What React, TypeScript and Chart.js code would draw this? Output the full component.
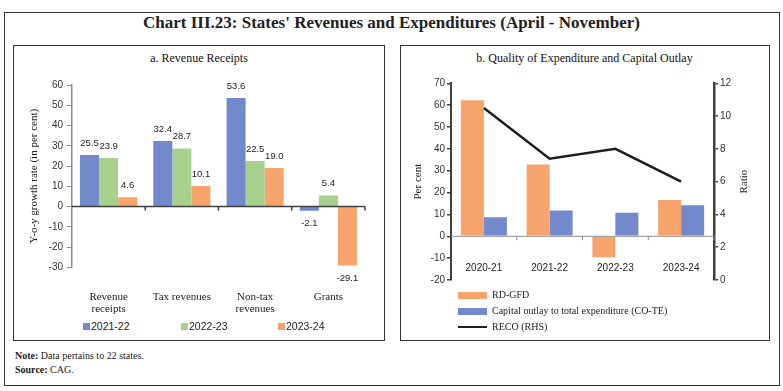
import React, { useEffect, useRef } from 'react';
import { Chart, registerables } from 'chart.js';

Chart.register(...registerables);

// ---------- Data ----------
const revenueCategories: (string | string[])[] = [['Revenue', 'receipts'], 'Tax revenues', ['Non-tax', 'revenues'], 'Grants'];
const revenueSeriesNames = ['2021-22', '2022-23', '2023-24'];
const revenue2021_22 = [25.5, 32.4, 53.6, -2.1];
const revenue2022_23 = [23.9, 28.7, 22.5, 5.4];
const revenue2023_24 = [4.6, 10.1, 19.0, -29.1];
const revenueTicks = { min: -30, max: 60, step: 10 };

const expenditureCategories = ['2020-21', '2021-22', '2022-23', '2023-24'];
const expenditureSeriesNames = ['RD-GFD', 'Capital outlay to total expenditure (CO-TE)', 'RECO (RHS)'];
const rdGfd = [62.3, 32.8, -9.6, 16.6];
const coTe = [8.7, 11.8, 10.8, 14.2];
const reco = [10.5, 7.4, 8.0, 6.0];
const expenditureTicks = { min: -20, max: 70, step: 10 };
const ratioTicks = { min: 0, max: 12, step: 2 };

// ---------- Styles ----------
const BLUE = '#7289cb';
const GREEN = '#a9d18e';
const ORANGE = '#f6a46b';
const SERIF = '"Liberation Serif", "DejaVu Serif", serif';
const SANS = '"Liberation Sans", Arial, sans-serif';

const zeroLine = (color: string, width: number) => ({
  id: 'zeroLine',
  afterDatasetsDraw(chart: any) {
    const { ctx, chartArea, scales } = chart;
    const y0 = scales.y.getPixelForValue(0);
    const n = chart.data.labels.length;
    ctx.save();
    ctx.strokeStyle = color;
    ctx.lineWidth = width;
    ctx.beginPath();
    ctx.moveTo(chartArea.left, y0);
    ctx.lineTo(chartArea.right, y0);
    for (let i = 1; i <= n; i++) {
      const x = chartArea.left + ((chartArea.right - chartArea.left) * i) / n;
      ctx.moveTo(x, y0);
      ctx.lineTo(x, y0 + 4);
    }
    ctx.stroke();
    ctx.restore();
  },
});

const valueLabels = {
  id: 'valueLabels',
  afterDatasetsDraw(chart: any) {
    const { ctx } = chart;
    ctx.save();
    ctx.font = `9.5px ${SANS}`;
    ctx.fillStyle = '#222';
    ctx.textAlign = 'center';
    ctx.textBaseline = 'middle';
    chart.data.datasets.forEach((ds: any, i: number) => {
      const meta = chart.getDatasetMeta(i);
      meta.data.forEach((el: any, j: number) => {
        const v = ds.data[j];
        const y = v >= 0 ? el.y - 12 : el.y + 13;
        ctx.fillText(v.toFixed(1), el.x, y);
      });
    });
    ctx.restore();
  },
};

// category labels drawn inside the plot, below the zero line (as in the original)
const innerCategoryLabels = {
  id: 'innerCategoryLabels',
  afterDraw(chart: any) {
    const { ctx, chartArea, scales } = chart;
    ctx.save();
    ctx.font = `10px ${SANS}`;
    ctx.fillStyle = '#222';
    ctx.textAlign = 'center';
    ctx.textBaseline = 'middle';
    chart.data.labels.forEach((lab: string, i: number) => {
      ctx.fillText(lab, scales.x.getPixelForValue(i), chartArea.bottom - 12);
    });
    ctx.restore();
  },
};

const rightTitle = {
  id: 'rightTitle',
  afterDraw(chart: any) {
    const { ctx } = chart;
    const s = chart.scales.y2;
    ctx.save();
    ctx.font = `11px ${SERIF}`;
    ctx.fillStyle = '#222';
    ctx.textAlign = 'center';
    ctx.textBaseline = 'middle';
    ctx.translate(s.right - 25, (s.top + s.bottom) / 2);
    ctx.rotate(-Math.PI / 2);
    ctx.fillText('Ratio', 0, 0);
    ctx.restore();
  },
};

function RevenueChart() {
  const ref = useRef<HTMLCanvasElement>(null);
  useEffect(() => {
    const chart = new Chart(ref.current!, {
      type: 'bar',
      data: {
        labels: revenueCategories as any,
        datasets: [
          { label: revenueSeriesNames[0], data: revenue2021_22, backgroundColor: BLUE },
          { label: revenueSeriesNames[1], data: revenue2022_23, backgroundColor: GREEN },
          { label: revenueSeriesNames[2], data: revenue2023_24, backgroundColor: ORANGE },
        ],
      },
      options: {
        animation: false,
        responsive: false,
        events: [],
        layout: { padding: { top: 15, right: 19, left: 0, bottom: 0 } },
        datasets: { bar: { categoryPercentage: 0.78, barPercentage: 1 } },
        plugins: { legend: { display: false }, tooltip: { enabled: false } },
        scales: {
          x: {
            grid: { display: false },
            border: { display: false },
            ticks: { padding: 16, color: '#222', font: { family: SERIF, size: 11, lineHeight: 1.1 }, maxRotation: 0, autoSkip: false },
            afterFit: (s: any) => { s.height = 62.7; },
          },
          y: {
            min: revenueTicks.min,
            max: revenueTicks.max,
            ticks: { stepSize: revenueTicks.step, padding: 4, color: '#333', font: { family: SANS, size: 10 } },
            grid: { drawOnChartArea: false, tickLength: 5, color: '#8c8c8c', lineWidth: 1 },
            border: { display: true, color: '#8c8c8c', width: 1.5 },
            title: { display: true, text: 'Y-o-y growth rate (in per cent)', color: '#222', font: { family: SERIF, size: 11 }, padding: { top: 14, bottom: 0 } },
            afterFit: (s: any) => { s.width = 58; },
          },
        },
      },
      plugins: [zeroLine('#404040', 1.5), valueLabels],
    } as any);
    return () => chart.destroy();
  }, []);
  return <canvas ref={ref} width={370} height={260} style={{ position: 'absolute', left: 14, top: 70, width: 370, height: 260 }} />;
}

function ExpenditureChart() {
  const ref = useRef<HTMLCanvasElement>(null);
  useEffect(() => {
    const chart = new Chart(ref.current!, {
      type: 'bar',
      data: {
        labels: expenditureCategories,
        datasets: [
          { type: 'line', label: expenditureSeriesNames[2], data: reco, yAxisID: 'y2', borderColor: '#1e1e1e', borderWidth: 2.5, pointRadius: 0, fill: false, order: 0 },
          { label: expenditureSeriesNames[0], data: rdGfd, backgroundColor: ORANGE, yAxisID: 'y', order: 1 },
          { label: expenditureSeriesNames[1], data: coTe, backgroundColor: BLUE, yAxisID: 'y', order: 1 },
        ],
      },
      options: {
        animation: false,
        responsive: false,
        events: [],
        layout: { padding: { top: 13.3, right: 0, left: 0, bottom: 0 } },
        datasets: { bar: { categoryPercentage: 0.7, barPercentage: 1 } },
        plugins: { legend: { display: false }, tooltip: { enabled: false } },
        scales: {
          x: {
            grid: { display: false },
            border: { display: false },
            ticks: { display: false },
            afterFit: (s: any) => { s.height = 10; },
          },
          y: {
            position: 'left',
            min: expenditureTicks.min,
            max: expenditureTicks.max,
            ticks: { stepSize: expenditureTicks.step, padding: 2, color: '#333', font: { family: SANS, size: 10 } },
            grid: { drawOnChartArea: false, tickLength: 4, color: '#404040', lineWidth: 1.5 },
            border: { display: true, color: '#404040', width: 2 },
            title: { display: true, text: 'Per cent', color: '#222', font: { family: SERIF, size: 11 }, padding: { top: 12, bottom: 0 } },
            afterFit: (s: any) => { s.width = 51; },
          },
          y2: {
            position: 'right',
            min: ratioTicks.min,
            max: ratioTicks.max,
            ticks: { stepSize: ratioTicks.step, padding: 2, color: '#333', font: { family: SANS, size: 10 } },
            grid: { drawOnChartArea: false, tickLength: 4, color: '#404040', lineWidth: 1.5 },
            border: { display: true, color: '#404040', width: 2.5 },
            afterFit: (s: any) => { s.width = 55; },
          },
        },
      },
      plugins: [zeroLine('#8c8c8c', 1), innerCategoryLabels, rightTitle],
    } as any);
    return () => chart.destroy();
  }, []);
  return <canvas ref={ref} width={369} height={220} style={{ position: 'absolute', left: 400, top: 70, width: 369, height: 220 }} />;
}

const box = (color: string, w: number, h: number): React.CSSProperties => ({
  display: 'inline-block', width: w, height: h, background: color, marginRight: 1,
});

export default function App() {
  const legendLeft = [
    { name: revenueSeriesNames[0], color: BLUE, x: 83 },
    { name: revenueSeriesNames[1], color: GREEN, x: 181 },
    { name: revenueSeriesNames[2], color: ORANGE, x: 278 },
  ];
  return (
    <div style={{ position: 'absolute', left: 0, top: 0, width: 783, height: 391, background: '#fff', overflow: 'hidden' }}>
      <div style={{ position: 'absolute', left: 4, top: 12, width: 774, height: 372, border: '1px solid #333' }} />
      <div style={{ position: 'absolute', left: 0, width: 783, top: 13, textAlign: 'center', font: `bold 17px ${SERIF}`, color: '#222' }}>
        Chart III.23: States' Revenues and Expenditures (April - November)
      </div>
      <div style={{ position: 'absolute', left: 13, top: 45, width: 370, height: 294, border: '1px solid #333' }} />
      <div style={{ position: 'absolute', left: 400, top: 45, width: 368, height: 294, border: '1px solid #333' }} />
      <div style={{ position: 'absolute', left: 14, width: 370, top: 51, textAlign: 'center', font: `12px ${SERIF}`, color: '#111' }}>a. Revenue Receipts</div>
      <div style={{ position: 'absolute', left: 400, width: 369, top: 51, textAlign: 'center', font: `12px ${SERIF}`, color: '#111' }}>b. Quality of Expenditure and Capital Outlay</div>
      <RevenueChart />
      <ExpenditureChart />
      {legendLeft.map((l) => (
        <div key={l.name} style={{ position: 'absolute', left: l.x, top: 319, font: `10.5px ${SANS}`, color: '#222', whiteSpace: 'nowrap', lineHeight: '14px', background: '#fff' }}>
          <span style={{ ...box(l.color, 7, 7), verticalAlign: 'middle', marginTop: -2 }} />{l.name}
        </div>
      ))}
      {[
        { name: expenditureSeriesNames[0], color: ORANGE, y: 295, h: 7 },
        { name: expenditureSeriesNames[1], color: BLUE, y: 311, h: 7 },
        { name: expenditureSeriesNames[2], color: '#1e1e1e', y: 327, h: 2 },
      ].map((l) => (
        <div key={l.name} style={{ position: 'absolute', left: 458, top: l.y - 7, height: 14, font: `10px ${SERIF}`, color: '#222', whiteSpace: 'nowrap', lineHeight: '14px' }}>
          <span style={{ position: 'absolute', left: 0, top: 7 - l.h / 2, width: 29, height: l.h, background: l.color }} />
          <span style={{ position: 'absolute', left: 34, top: 0 }}>{l.name}</span>
        </div>
      ))}
      <div style={{ position: 'absolute', left: 15, top: 349, font: `10px ${SERIF}`, color: '#222', lineHeight: '14px' }}>
        <div><b>Note:</b> Data pertains to 22 states.</div>
        <div><b>Source:</b> CAG.</div>
      </div>
    </div>
  );
}
